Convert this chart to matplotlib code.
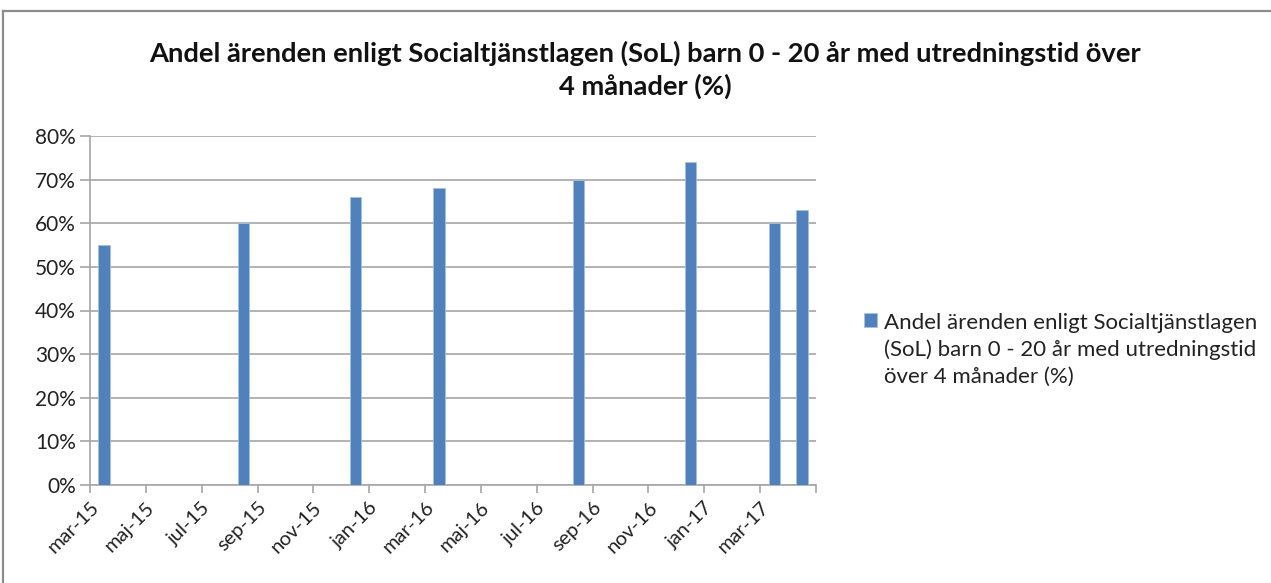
import matplotlib
matplotlib.use("Agg")
import matplotlib.pyplot as plt
from matplotlib.lines import Line2D

# ---- data ----
dates = ["2015-03", "2015-08", "2015-12", "2016-03", "2016-08", "2016-12", "2017-03", "2017-04"]
values = [55, 60, 66, 68, 70, 74, 60, 63]
tick_labels = ["mar-15", "maj-15", "jul-15", "sep-15", "nov-15", "jan-16", "mar-16",
               "maj-16", "jul-16", "sep-16", "nov-16", "jan-17", "mar-17"]
series_name = "Andel ärenden enligt Socialtjänstlagen\n(SoL) barn 0 - 20 år med utredningstid\növer 4 månader (%)"
title = "Andel ärenden enligt Socialtjänstlagen (SoL) barn 0 - 20 år med utredningstid över\n4 månader (%)"

start_year, start_month = 2015, 3
n_months = 26

def month_index(s):
    y, m = s.split("-")
    return (int(y) - start_year) * 12 + int(m) - start_month

xs = [month_index(d) + 0.5 for d in dates]

plt.rcParams['font.family'] = ['Lato', 'DejaVu Sans']

W, H = 1271, 583
fig = plt.figure(figsize=(W / 100, H / 100), dpi=100)
ax = fig.add_axes([90 / W, 1 - 485 / H, (816 - 90) / W, (485 - 136) / H])

bar_color = "#4F81BD"
ax.bar(xs, values, width=0.4, color=bar_color, edgecolor="#A7C0DE", linewidth=0.6,
       label=series_name, zorder=3)

ax.set_xlim(0, n_months)
ax.set_ylim(0, 80)
ax.set_yticks(range(0, 81, 10))
ax.set_yticklabels([f"{v}%" for v in range(0, 81, 10)], fontsize=15, color="#222222")
ax.yaxis.grid(True, color="#A6A6A6", linewidth=1.2, zorder=0)
ax.set_axisbelow(True)

ax.set_xticks(range(0, n_months + 1, 2))
ax.set_xticklabels(tick_labels + [""], rotation=45, ha="right", rotation_mode="anchor",
                   fontsize=14.5, color="#222222")

for s in ["top", "right"]:
    ax.spines[s].set_visible(False)
ax.spines["left"].set_color("#A6A6A6")
ax.spines["bottom"].set_color("#A6A6A6")
ax.spines["left"].set_linewidth(1.2)
ax.spines["bottom"].set_linewidth(1.2)
ax.tick_params(axis="y", length=7, color="#A6A6A6", width=1.2, pad=3)
ax.tick_params(axis="x", length=6, color="#A6A6A6", width=1.2, pad=4)

fig.text(645 / W, 1 - 70 / H, title, ha="center", va="center", fontsize=19.7,
         fontweight="bold", linespacing=1.35, color="#111111")

leg = ax.legend(loc="upper left", bbox_to_anchor=(853 / W, 1 - 302 / H),
                bbox_transform=fig.transFigure, frameon=False, fontsize=16,
                handlelength=0.6, handleheight=0.6, handletextpad=0.3, borderpad=0)
for t in leg.get_texts():
    t.set_linespacing(1.4)
    t.set_color("#222222")
# align the legend square with the first text line
h = leg.legend_handles[0]
h.set_y(h.get_y() + 30 * 72 / 100)

# chart area border
fig.add_artist(Line2D([3 / W, 1], [1 - 11 / H, 1 - 11 / H], transform=fig.transFigure,
                      color="#8C8C8C", linewidth=1.6))
fig.add_artist(Line2D([3 / W, 3 / W], [0, 1 - 11 / H], transform=fig.transFigure,
                      color="#8C8C8C", linewidth=1.6))

fig.savefig("out.png", dpi=100)
